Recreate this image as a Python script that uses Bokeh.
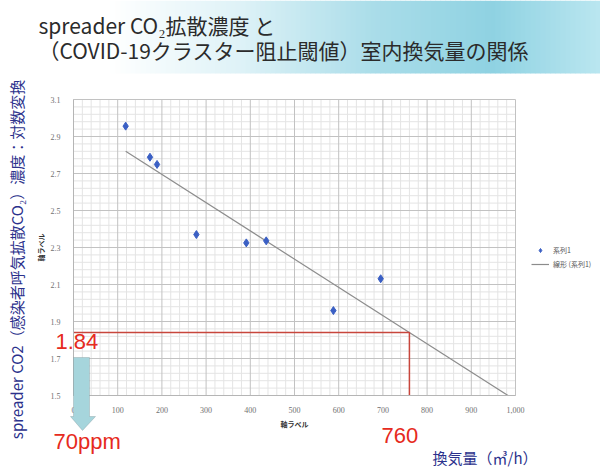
import numpy as np
from bokeh.plotting import figure
from bokeh.models import (Range1d, FixedTicker, NumeralTickFormatter, Label, LinearAxis,
                          PolyAnnotation, Legend, LegendItem)
from bokeh.embed import file_html
from bokeh.resources import INLINE

# ---- data ----
airflow = [118, 173, 189, 278, 391, 436, 588, 695]          # 換気量 (m3/h)
log_co2 = [2.956, 2.788, 2.749, 2.370, 2.325, 2.336, 1.959, 2.131]
trend_x = [118, 983]                                        # 線形近似の両端
trend_y = [2.82, 1.50]
threshold_x = 760
threshold_y = 1.84
x_ticks = [0, 100, 200, 300, 400, 500, 600, 700, 800, 900, 1000]
y_ticks = [1.5, 1.7, 1.9, 2.1, 2.3, 2.5, 2.7, 2.9, 3.1]

JP = "Noto Sans CJK JP"
BLUE_TXT = "#2b318c"
RED_TXT = "#e62a20"

# ---- page geometry: one canvas, plot box placed inside it ----
W, H = 600, 468
KX, KY = 0.442, 185.0            # pixels per data unit
X_START = 0 - 73 / KX            # x = 0 sits 73 px from the left edge
Y_END = 1.5 + 395 / KY           # y = 1.5 sits 395 px from the top edge
X_END = X_START + W / KX
Y_START = Y_END - H / KY
XMIN, XMAX = x_ticks[0], x_ticks[-1]
YMIN, YMAX = y_ticks[0], y_ticks[-1]


def sx(px):
    return X_START + px / KX


def sy(py):
    return Y_END - py / KY


p = figure(width=W, height=H, x_range=Range1d(X_START, X_END), y_range=Range1d(Y_START, Y_END),
           x_axis_location=None, y_axis_location=None, min_border=0,
           toolbar_location=None, output_backend="svg")
p.background_fill_color = "white"
p.border_fill_color = "white"
p.outline_line_color = None
p.grid.visible = False

# ---- title banner (white -> pale cyan gradient) ----
stops = [(0.0, (255, 255, 255)), (0.18, (255, 255, 255)), (0.40, (222, 242, 247)),
         (0.62, (170, 221, 233)), (0.82, (143, 210, 226)), (1.0, (186, 230, 240))]
n = 120
edges = np.linspace(0, W, n + 1)
cols = []
for i in range(n):
    t = (i + 0.5) / n
    for (t0, c0), (t1, c1) in zip(stops[:-1], stops[1:]):
        if t0 <= t <= t1:
            f = (t - t0) / (t1 - t0)
            c = tuple(int(round(a + (b - a) * f)) for a, b in zip(c0, c1))
            cols.append("#%02x%02x%02x" % c)
            break
p.quad(left=[sx(e) for e in edges[:-1]], right=[sx(e + 0.6) for e in edges[1:]],
       bottom=sy(73), top=sy(0), color=cols, line_color=None)

for txt, py in [("spreader CO₂拡散濃度 と", 24), ("（COVID-19クラスター阻止閾値）室内換気量の関係", 49)]:
    p.add_layout(Label(x=sx(38), y=sy(py), text=txt, text_font=JP, text_font_size="21px",
                       text_color="#2b2b2b", text_baseline="middle"))

# ---- grid ----
x_minor = [v for v in range(XMIN, XMAX + 1, 20) if v not in x_ticks]
y_minor = [round(YMIN + 0.04 * k, 2) for k in range(41)]
y_minor = [v for v in y_minor if v not in y_ticks]
p.segment(x0=x_minor, y0=YMIN, x1=x_minor, y1=YMAX, line_color="#e4e4e4", line_width=1)
p.segment(x0=XMIN, y0=y_minor, x1=XMAX, y1=y_minor, line_color="#e4e4e4", line_width=1)
p.segment(x0=x_ticks, y0=YMIN, x1=x_ticks, y1=YMAX, line_color="#c2c2c2", line_width=1)
p.segment(x0=XMIN, y0=y_ticks, x1=XMAX, y1=y_ticks, line_color="#c2c2c2", line_width=1)

# ---- axes pinned to the plot box ----
xaxis = LinearAxis(fixed_location=YMIN, bounds=(XMIN, XMAX),
                   ticker=FixedTicker(ticks=x_ticks), formatter=NumeralTickFormatter(format="0,0"))
yaxis = LinearAxis(fixed_location=XMIN, bounds=(YMIN, YMAX), ticker=FixedTicker(ticks=y_ticks))
for ax in (xaxis, yaxis):
    ax.major_tick_line_color = None
    ax.minor_tick_line_color = None
    ax.axis_line_color = "#b5b5b5"
    ax.major_label_text_font = "Liberation Serif"
    ax.major_label_text_font_size = "8px"
    ax.major_label_text_color = "#707070"
    ax.axis_label = "軸ラベル"
    ax.axis_label_text_font = JP
    ax.axis_label_text_font_size = "7px"
    ax.axis_label_text_font_style = "bold"
    ax.axis_label_text_color = "#333333"
xaxis.major_label_standoff = 5
xaxis.axis_label_standoff = 3
yaxis.major_label_standoff = 7
yaxis.axis_label_standoff = 2
p.add_layout(xaxis, "below")
p.add_layout(yaxis, "left")

# ---- series ----
trend = p.line(trend_x, trend_y, line_color="#8c8c8c", line_width=1.2)
pts = p.scatter(airflow, log_co2, marker="diamond", size=8,
                fill_color="#3a5fc4", line_color="#3a5fc4")

# threshold guide lines
p.line([XMIN, threshold_x, threshold_x], [threshold_y, threshold_y, YMIN],
       line_color="#c8463c", line_width=1.5)

legend = Legend(items=[LegendItem(label="系列1", renderers=[pts]),
                       LegendItem(label="線形 (系列1)", renderers=[trend])],
                location=(531, 199), margin=0, padding=4, spacing=4,
                glyph_width=18, glyph_height=10, label_standoff=4,
                label_text_font=JP, label_text_font_size="7px",
                label_text_color="#555555", border_line_color=None,
                background_fill_alpha=0)
p.add_layout(legend)

# downward arrow below the threshold value
ax_px = [73, 89, 89, 95, 82, 70, 73, 73]
ay_px = [357, 357, 416, 416, 430, 416, 416, 357]
p.add_layout(PolyAnnotation(xs=[sx(v) for v in ax_px], ys=[sy(v) for v in ay_px],
                            fill_color="#a6d5dc", fill_alpha=1,
                            line_color="#6f8388", line_width=1))

# ---- annotations ----
p.add_layout(Label(x=sx(55), y=sy(341), text=f"{threshold_y:.2f}",
                   text_font="Liberation Sans", text_font_size="22px",
                   text_color=RED_TXT, text_baseline="middle"))
p.add_layout(Label(x=sx(53), y=sy(441), text="70ppm", text_font="Liberation Sans",
                   text_font_size="22px", text_color=RED_TXT, text_baseline="middle"))
p.add_layout(Label(x=sx(381), y=sy(435), text=f"{threshold_x}", text_font="Liberation Sans",
                   text_font_size="22px", text_color=RED_TXT, text_baseline="middle"))
p.add_layout(Label(x=sx(432), y=sy(457), text="換気量（㎥/h）", text_font=JP,
                   text_font_size="15px", text_color=BLUE_TXT, text_baseline="middle"))
p.add_layout(Label(x=sx(16), y=sy(259), angle=np.pi / 2,
                   text="spreader CO2（感染者呼気拡散CO₂）濃度：対数変換",
                   text_font=JP, text_font_size="15px", text_color=BLUE_TXT,
                   text_align="center", text_baseline="middle"))

open("out.html", "w").write(file_html(p, INLINE))
